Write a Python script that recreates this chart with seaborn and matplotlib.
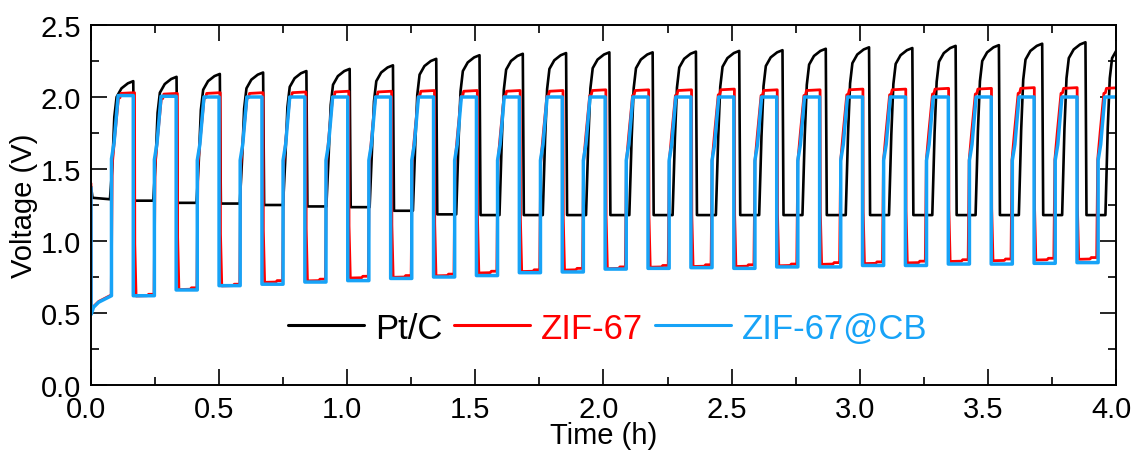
import matplotlib
matplotlib.use("Agg")
import matplotlib.pyplot as plt
import matplotlib.transforms as mtransforms
from matplotlib.lines import Line2D
from matplotlib.ticker import MultipleLocator
import pandas as pd
import seaborn as sns

# ---------------------------------------------------------------------------
# Galvanostatic charge/discharge cycling of three air cathodes
# ---------------------------------------------------------------------------
LABELS = ["Pt/C", "ZIF-67", "ZIF-67@CB"]

# Pt/C: open-circuit rest, end-of-charge voltage per cycle, discharge voltage per cycle
ptc_rest_t = [0.0, 0.006, 0.074]
ptc_rest_v = [1.38, 1.30, 1.29]
ptc_charge_v = [2.11, 2.14, 2.16, 2.17, 2.18, 2.195, 2.22, 2.265, 2.29, 2.30,
                2.305, 2.31, 2.31, 2.315, 2.32, 2.325, 2.335, 2.345, 2.34,
                2.355, 2.36, 2.37, 2.38, 2.38]
ptc_discharge_v = [1.28, 1.265, 1.26, 1.25, 1.24, 1.235, 1.21, 1.185, 1.18,
                   1.18, 1.18, 1.18, 1.18, 1.18, 1.18, 1.18, 1.18, 1.18, 1.18,
                   1.18, 1.18, 1.18, 1.18]

# ZIF-67
zif_rest_t = [0.0, 0.0005, 0.01, 0.03, 0.079]
zif_rest_v = [1.40, 0.50, 0.545, 0.58, 0.625]
zif_charge_v = [2.03, 2.025, 2.03, 2.03, 2.035, 2.04, 2.04, 2.045, 2.045,
                2.045, 2.045, 2.05, 2.05, 2.05, 2.055, 2.05, 2.05, 2.055,
                2.055, 2.06, 2.06, 2.065, 2.065, 2.065]
zif_discharge_v = [0.63, 0.675, 0.70, 0.725, 0.735, 0.755, 0.76, 0.77, 0.79,
                   0.80, 0.81, 0.82, 0.83, 0.835, 0.835, 0.84, 0.85, 0.855,
                   0.86, 0.87, 0.875, 0.88, 0.885]

# ZIF-67@CB
zifcb_rest_t = [0.0, 0.0005, 0.01, 0.03, 0.08]
zifcb_rest_v = [1.37, 0.49, 0.54, 0.575, 0.62]
zifcb_charge_v = [2.01, 2.005, 2.0, 2.0, 2.0, 2.0, 2.0, 2.0, 2.0, 2.0, 2.0,
                  2.0, 2.0, 2.0, 2.0, 2.0, 2.0, 2.0, 2.0, 2.0, 2.0, 2.0, 2.0,
                  2.0]
zifcb_discharge_v = [0.62, 0.66, 0.69, 0.70, 0.715, 0.725, 0.74, 0.75, 0.76,
                     0.78, 0.785, 0.805, 0.81, 0.815, 0.81, 0.82, 0.82, 0.83,
                     0.83, 0.84, 0.84, 0.845, 0.85]

# Cycling schedule (h): first charge start, cycle period, charge duration
SCHEDULE = {
    "Pt/C": (0.074, 0.1689, 0.091),
    "ZIF-67": (0.079, 0.1672, 0.091),
    "ZIF-67@CB": (0.080, 0.1674, 0.085),
}

# Shape of a charge step: hours after the current switches on,
# volts relative to the end-of-charge value
RISE = {
    "Pt/C": ([0.009, 0.017, 0.026, 0.045, 0.07],
             [-0.6, -0.25, -0.11, -0.05, -0.015]),
    "ZIF-67": ([0.004, 0.014, 0.028, 0.034, 0.038],
               [-0.5, -0.3, -0.04, -0.035, -0.005]),
    "ZIF-67@CB": ([0.0, 0.01, 0.026], [-0.44, -0.33, 0.0]),
}
# Shape of a discharge step: hours after the current reverses,
# volts relative to the discharge value
FALL = {
    "Pt/C": ([0.004], [0.0]),
    "ZIF-67": ([0.001, 0.006, 0.05, 0.055], [0.35, -0.012, -0.01, 0.0]),
    "ZIF-67@CB": ([0.0], [0.0]),
}

COLORS = {"Pt/C": "#000000", "ZIF-67": "#FF0000", "ZIF-67@CB": "#17A3F7"}
WIDTHS = {"Pt/C": 1.9, "ZIF-67": 2.0, "ZIF-67@CB": 2.5}


def build_trace(name, rest_t, rest_v, charge_v, discharge_v):
    t0, period, ch_len = SCHEDULE[name]
    rdt, rdv = RISE[name]
    fdt, fdv = FALL[name]
    t, v = list(rest_t), list(rest_v)
    for k, peak in enumerate(charge_v):
        start = t0 + k * period
        t.append(start)
        v.append(v[-1])
        t += [start + d for d in rdt]
        v += [peak + d for d in rdv]
        end = start + ch_len
        t.append(end)
        v.append(peak)
        if k < len(discharge_v):
            low = discharge_v[k]
            t += [end + d for d in fdt]
            v += [low + d for d in fdv]
    return pd.DataFrame({"Time (h)": t, "Voltage (V)": v, "cell": name})


df = pd.concat([
    build_trace("Pt/C", ptc_rest_t, ptc_rest_v, ptc_charge_v, ptc_discharge_v),
    build_trace("ZIF-67", zif_rest_t, zif_rest_v, zif_charge_v, zif_discharge_v),
    build_trace("ZIF-67@CB", zifcb_rest_t, zifcb_rest_v, zifcb_charge_v,
                zifcb_discharge_v),
], ignore_index=True)

sns.set_style("ticks")
plt.rcParams["font.family"] = ["Liberation Sans", "DejaVu Sans"]
plt.rcParams.update({
    "text.color": "black",
    "axes.labelcolor": "black",
    "xtick.color": "black",
    "ytick.color": "black",
    "axes.edgecolor": "black",
})

fig = plt.figure(figsize=(11.33, 4.52), dpi=100)
ax = fig.add_axes([0.0803, 0.146, 0.9047, 0.7965])

sns.lineplot(data=df, x="Time (h)", y="Voltage (V)", hue="cell",
             hue_order=LABELS, palette=COLORS, size="cell", size_order=LABELS,
             sizes=WIDTHS, estimator=None, sort=False, legend=False, ax=ax)

ax.set_xlim(0, 4.0)
ax.set_ylim(0, 2.5)
ax.xaxis.set_major_locator(MultipleLocator(0.5))
ax.xaxis.set_minor_locator(MultipleLocator(0.25))
ax.yaxis.set_major_locator(MultipleLocator(0.5))
ax.yaxis.set_minor_locator(MultipleLocator(0.25))
ax.xaxis.set_major_formatter(lambda x, _: f"{x:.1f}")
ax.yaxis.set_major_formatter(lambda y, _: f"{y:.1f}")

ax.tick_params(which="both", direction="in", top=True, right=True,
               colors="black", width=1.2)
ax.tick_params(which="major", length=11.5, labelsize=21, pad=7)
ax.tick_params(which="minor", length=5.8)
for sp in ax.spines.values():
    sp.set_linewidth(1.4)
    sp.set_color("black")

# hour labels sit slightly left of their ticks
shift = mtransforms.ScaledTranslation(-0.05, 0, fig.dpi_scale_trans)
for tick in ax.xaxis.get_major_ticks():
    tick.label1.set_transform(tick.label1.get_transform() + shift)

ax.set_xlabel("Time (h)", fontsize=21, labelpad=-1)
ax.set_ylabel("Voltage (V)", fontsize=21, labelpad=2)

handles = [Line2D([], [], color=COLORS[n], lw=2.2) for n in LABELS]
ax.legend(handles, LABELS, loc="center", bbox_to_anchor=(0.504, 0.158),
          ncol=3, frameon=False, fontsize=25, handlelength=2.2,
          handletextpad=0.3, columnspacing=0.34,
          labelcolor=[COLORS[n] for n in LABELS])

fig.savefig("out.png", dpi=100)
